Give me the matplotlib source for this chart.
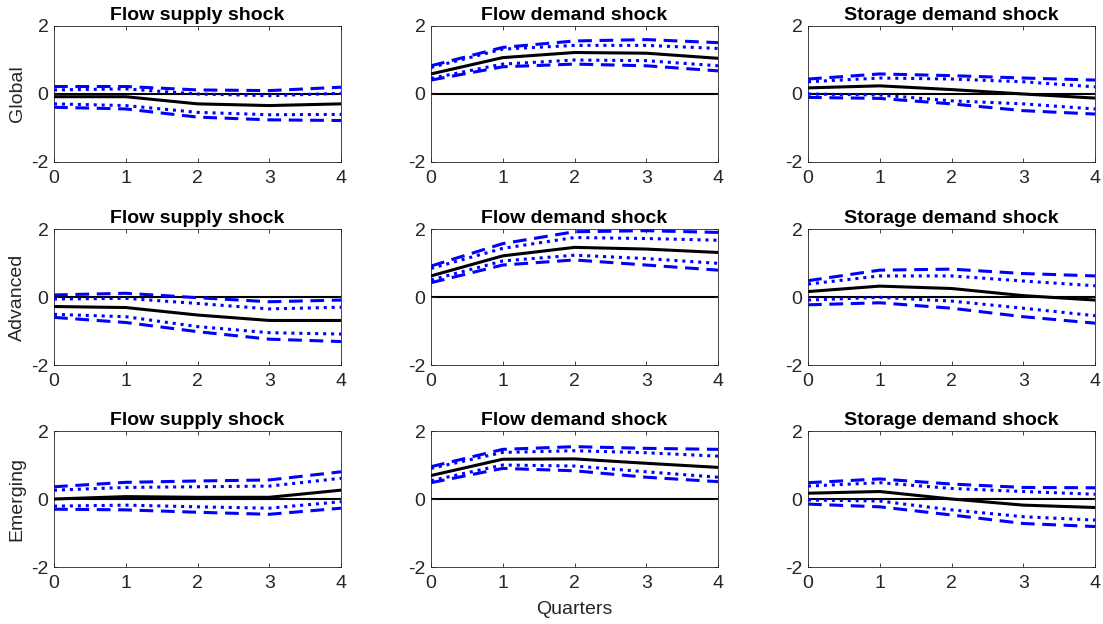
import matplotlib
matplotlib.use("Agg")
import matplotlib.pyplot as plt
import numpy as np

plt.rcParams['font.family'] = ['Liberation Sans', 'DejaVu Sans']
plt.rcParams['axes.unicode_minus'] = False

quarters = [0, 1, 2, 3, 4]
shocks = ["Flow supply shock", "Flow demand shock", "Storage demand shock"]
regions = ["Global", "Advanced", "Emerging"]

# Global
global_supply_med = [-0.08, -0.08, -0.29, -0.34, -0.29]
global_supply_lo68 = [-0.29, -0.34, -0.54, -0.61, -0.60]
global_supply_hi68 = [0.12, 0.15, 0.00, -0.05, 0.02]
global_supply_lo90 = [-0.39, -0.44, -0.68, -0.76, -0.78]
global_supply_hi90 = [0.22, 0.22, 0.12, 0.10, 0.20]

global_demand_med = [0.59, 1.07, 1.22, 1.20, 1.05]
global_demand_lo68 = [0.46, 0.88, 1.00, 0.98, 0.83]
global_demand_hi68 = [0.78, 1.32, 1.43, 1.43, 1.34]
global_demand_lo90 = [0.41, 0.80, 0.88, 0.83, 0.68]
global_demand_hi90 = [0.83, 1.37, 1.56, 1.60, 1.51]

global_storage_med = [0.18, 0.24, 0.13, 0.00, -0.12]
global_storage_lo68 = [0.00, -0.03, -0.20, -0.29, -0.44]
global_storage_hi68 = [0.36, 0.47, 0.44, 0.36, 0.21]
global_storage_lo90 = [-0.10, -0.13, -0.29, -0.49, -0.59]
global_storage_hi90 = [0.44, 0.59, 0.54, 0.47, 0.41]

# Advanced
adv_supply_med = [-0.28, -0.31, -0.53, -0.69, -0.69]
adv_supply_lo68 = [-0.51, -0.58, -0.87, -1.05, -1.09]
adv_supply_hi68 = [-0.06, -0.04, -0.19, -0.35, -0.30]
adv_supply_lo90 = [-0.60, -0.75, -1.02, -1.24, -1.31]
adv_supply_hi90 = [0.06, 0.11, -0.02, -0.14, -0.09]

adv_demand_med = [0.62, 1.21, 1.46, 1.41, 1.31]
adv_demand_lo68 = [0.50, 1.06, 1.23, 1.13, 0.99]
adv_demand_hi68 = [0.84, 1.43, 1.75, 1.72, 1.67]
adv_demand_lo90 = [0.42, 0.94, 1.09, 0.94, 0.79]
adv_demand_hi90 = [0.91, 1.57, 1.92, 1.95, 1.90]

adv_storage_med = [0.16, 0.32, 0.25, 0.04, -0.09]
adv_storage_lo68 = [-0.09, -0.01, -0.12, -0.33, -0.55]
adv_storage_hi68 = [0.38, 0.62, 0.62, 0.47, 0.33]
adv_storage_lo90 = [-0.23, -0.17, -0.33, -0.58, -0.77]
adv_storage_hi90 = [0.48, 0.79, 0.82, 0.69, 0.62]

# Emerging
em_supply_med = [0.00, 0.07, 0.05, 0.05, 0.26]
em_supply_lo68 = [-0.21, -0.18, -0.23, -0.27, -0.08]
em_supply_hi68 = [0.26, 0.34, 0.36, 0.38, 0.61]
em_supply_lo90 = [-0.30, -0.32, -0.39, -0.45, -0.27]
em_supply_hi90 = [0.36, 0.49, 0.53, 0.56, 0.80]

em_demand_med = [0.69, 1.17, 1.18, 1.05, 0.93]
em_demand_lo68 = [0.54, 1.00, 0.97, 0.80, 0.64]
em_demand_hi68 = [0.90, 1.37, 1.42, 1.36, 1.26]
em_demand_lo90 = [0.48, 0.90, 0.83, 0.64, 0.51]
em_demand_hi90 = [0.95, 1.46, 1.54, 1.49, 1.46]

em_storage_med = [0.17, 0.22, 0.00, -0.18, -0.25]
em_storage_lo68 = [-0.03, -0.06, -0.32, -0.52, -0.62]
em_storage_hi68 = [0.38, 0.48, 0.31, 0.22, 0.14]
em_storage_lo90 = [-0.15, -0.23, -0.47, -0.72, -0.81]
em_storage_hi90 = [0.48, 0.59, 0.44, 0.34, 0.33]

panels = [
    [(global_supply_med, global_supply_lo68, global_supply_hi68, global_supply_lo90, global_supply_hi90),
     (global_demand_med, global_demand_lo68, global_demand_hi68, global_demand_lo90, global_demand_hi90),
     (global_storage_med, global_storage_lo68, global_storage_hi68, global_storage_lo90, global_storage_hi90)],
    [(adv_supply_med, adv_supply_lo68, adv_supply_hi68, adv_supply_lo90, adv_supply_hi90),
     (adv_demand_med, adv_demand_lo68, adv_demand_hi68, adv_demand_lo90, adv_demand_hi90),
     (adv_storage_med, adv_storage_lo68, adv_storage_hi68, adv_storage_lo90, adv_storage_hi90)],
    [(em_supply_med, em_supply_lo68, em_supply_hi68, em_supply_lo90, em_supply_hi90),
     (em_demand_med, em_demand_lo68, em_demand_hi68, em_demand_lo90, em_demand_hi90),
     (em_storage_med, em_storage_lo68, em_storage_hi68, em_storage_lo90, em_storage_hi90)],
]

W, H = 1103, 624
fig = plt.figure(figsize=(W / 100, H / 100), dpi=100)

col_left = [54, 431, 808]
row_top = [26, 229, 431]
ax_w, ax_h = 287, 136

tick_col = (0.15, 0.15, 0.15)
for r in range(3):
    for c in range(3):
        ax = fig.add_axes([col_left[c] / W, 1 - (row_top[r] + ax_h) / H, ax_w / W, ax_h / H])
        med, lo68, hi68, lo90, hi90 = panels[r][c]
        ax.axhline(0, color='black', lw=1.5, zorder=1)
        for s in (lo90, hi90):
            ax.plot(quarters, s, color='blue', lw=2.2, linestyle=(0, (4.5, 2.5)), zorder=2)
        for s in (lo68, hi68):
            ax.plot(quarters, s, color='blue', lw=2.2, linestyle=(0, (1, 1.6)), zorder=3)
        ax.plot(quarters, med, color='black', lw=2.2, zorder=4)
        ax.set_xlim(0, 4)
        ax.set_ylim(-2, 2)
        ax.set_xticks([0, 1, 2, 3, 4])
        ax.set_yticks([-2, 0, 2])
        ax.tick_params(direction='in', length=3, width=0.6, top=True, right=True,
                       labelsize=14, colors=tick_col)
        ax.tick_params(axis='x', pad=6)
        ax.tick_params(axis='y', pad=4)
        for sp in ax.spines.values():
            sp.set_color((0.15, 0.15, 0.15))
            sp.set_linewidth(0.6)
        ax.set_title(shocks[c], fontsize=14, fontweight='bold', pad=4)
        if c == 0:
            ax.set_ylabel(regions[r], fontsize=14, color=tick_col, labelpad=4)
        if r == 2 and c == 1:
            ax.set_xlabel("Quarters", fontsize=14, color=tick_col, labelpad=6)

fig.savefig("out.png", dpi=100)
